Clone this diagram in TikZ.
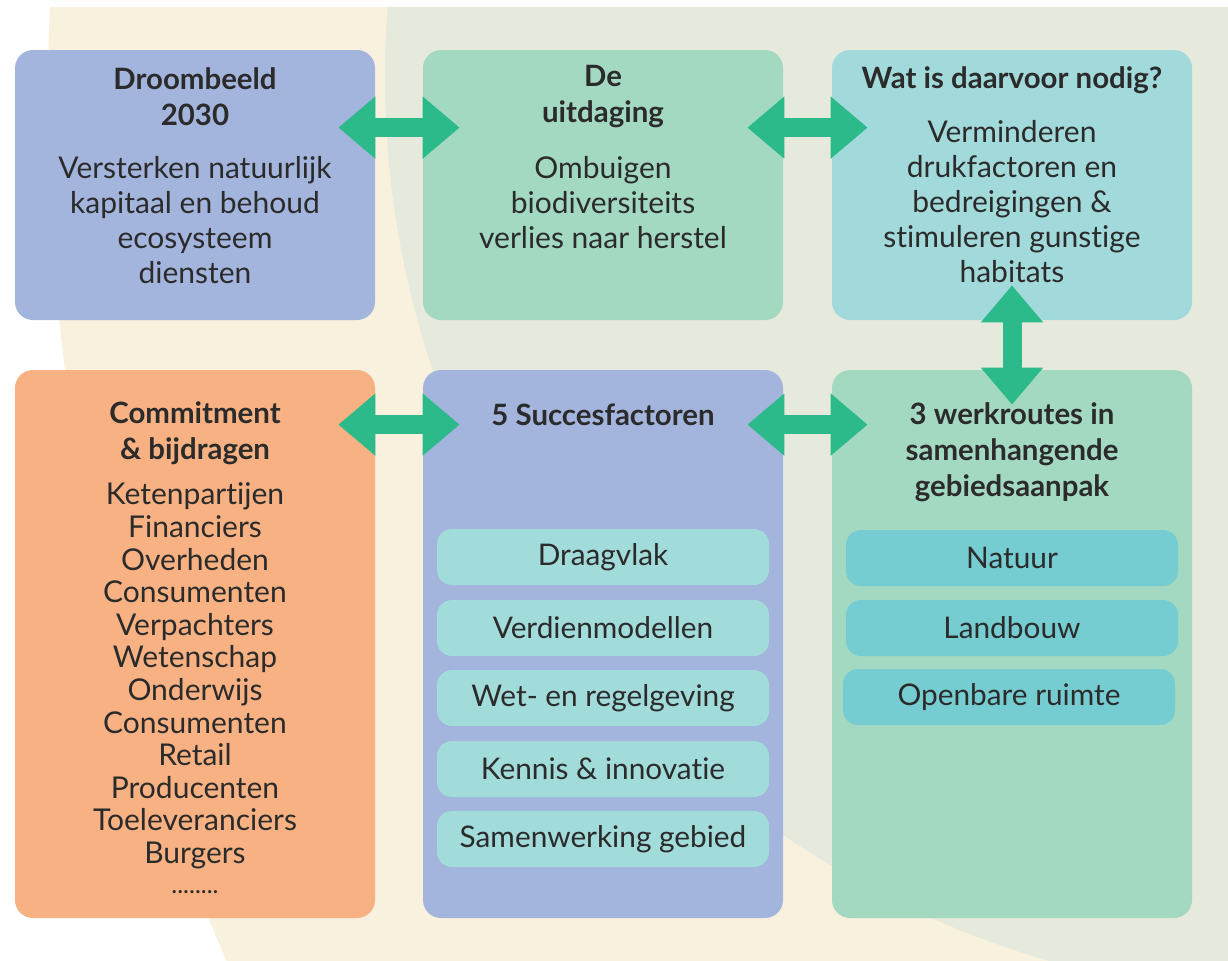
\documentclass[tikz,border=0pt]{standalone}
\usepackage{fontspec}
\setmainfont{Lato}[Ligatures=NoCommon]
\usetikzlibrary{arrows.meta}
\definecolor{cream}{HTML}{F8F1DE}
\definecolor{sage}{HTML}{E6EADD}
\definecolor{lav}{HTML}{A3B5DD}
\definecolor{mint}{HTML}{A3D8C1}
\definecolor{aqua}{HTML}{A2D9DA}
\definecolor{peach}{HTML}{F7B182}
\definecolor{pale}{HTML}{A1DBDA}
\definecolor{teal}{HTML}{75CCD1}
\definecolor{arrowgreen}{HTML}{2CBA8A}
\definecolor{ink}{HTML}{2B2B2B}
\begin{document}
\begin{tikzpicture}[x=0.5pt, y=-0.5pt,
	box/.style={rounded corners=9pt, minimum width=180pt, inner sep=0pt},
	item/.style={rounded corners=7.5pt, minimum width=166pt, minimum height=28pt, inner sep=0pt, text=ink, font=\fontsize{14.9}{17.5}\selectfont},
	ttl/.style={align=center, text=ink, font=\bfseries\fontsize{14.7}{18}\selectfont},
	txt/.style={align=center, text=ink, font=\fontsize{15}{17.5}\selectfont},
	lst/.style={align=center, text=ink, font=\fontsize{15}{16.3}\selectfont},
	dbl/.style={line width=9.5pt, draw=arrowgreen, {Triangle[width=30pt,length=18.5pt]}-{Triangle[width=30pt,length=18.5pt]}}]
					\useasboundingbox (0,0) rectangle (1228,960);
					\begin{scope}
						\clip (0,7) rectangle (1228,960);
						\fill[cream] (2221,97) circle[radius=1086.5pt];
						\fill[sage] (1305,77) circle[radius=460pt];
					\end{scope}
					\node[box, fill=lav, minimum height=135pt] (D) at (195,185) {};
					\node[box, fill=mint, minimum height=135pt] (U) at (603,185) {};
					\node[box, fill=aqua, minimum height=135pt] (N) at (1012,185) {};
					\node[box, fill=peach, minimum height=274pt] (C) at (195,644) {};
					\node[box, fill=lav, minimum height=274pt] (S) at (603,644) {};
					\node[box, fill=mint, minimum height=274pt] (W) at (1012,644) {};
					\node[ttl] (D1) at (195,97) {Droombeeld\\2030};
					\node[txt] (D2) at (195,220) {Versterken natuurlijk\\kapitaal en behoud\\ecosysteem\\diensten};
					\node[ttl] (U1) at (603,97) {De\\uitdaging};
					\node[txt] (U2) at (603,203) {Ombuigen\\biodiversiteits\\verlies naar herstel};
					\node[ttl] (N1) at (1012,80) {Wat is daarvoor nodig?};
					\node[txt] (N2) at (1012,202) {Verminderen\\drukfactoren en\\bedreigingen \&\\stimuleren gunstige\\habitats};
					\node[ttl] (C1) at (195,433) {Commitment\\\& bijdragen};
					\node[lst] (C2) at (195,676) {Ketenpartijen\\Financiers\\Overheden\\Consumenten\\Verpachters\\Wetenschap\\Onderwijs\\Consumenten\\Retail\\Producenten\\Toeleveranciers\\Burgers};
					\node[txt, anchor=base, inner sep=0pt, text height=1.5pt, text depth=0pt, font=\fontsize{12.5}{14}\selectfont] (C3) at (195,893) {........};
					\node[ttl] (S1) at (603,415) {5 Succesfactoren};
					\node[ttl] (W1) at (1012,452) {3 werkroutes in\\samenhangende\\gebiedsaanpak};
					\node[item, fill=pale] (S2) at (603,557) {Draagvlak};
					\node[item, fill=pale] (S3) at (603,628) {Verdienmodellen};
					\node[item, fill=pale] (S4) at (603,698) {Wet- en regelgeving};
					\node[item, fill=pale] (S5) at (603,769) {Kennis \& innovatie};
					\node[item, fill=pale] (S6) at (603,839) {Samenwerking gebied};
					\node[item, fill=teal] (W2) at (1012,558) {Natuur};
					\node[item, fill=teal] (W3) at (1012,628) {Landbouw};
					\node[item, fill=teal] (W4) at (1009,697) {Openbare ruimte};
					\draw[dbl] ([shift={(-37,78)}]D.north east) -- ([shift={(37,78)}]U.north west);
					\draw[dbl] ([shift={(-36,78)}]U.north east) -- ([shift={(36,78)}]N.north west);
					\draw[dbl] ([shift={(-37,55)}]C.north east) -- ([shift={(37,55)}]S.north west);
					\draw[dbl] ([shift={(-36,55)}]S.north east) -- ([shift={(36,55)}]W.north west);
					\draw[dbl] ([yshift=17.5pt]N.south) -- ([yshift=-17.5pt]W.north);
				\end{tikzpicture}
\end{document}
